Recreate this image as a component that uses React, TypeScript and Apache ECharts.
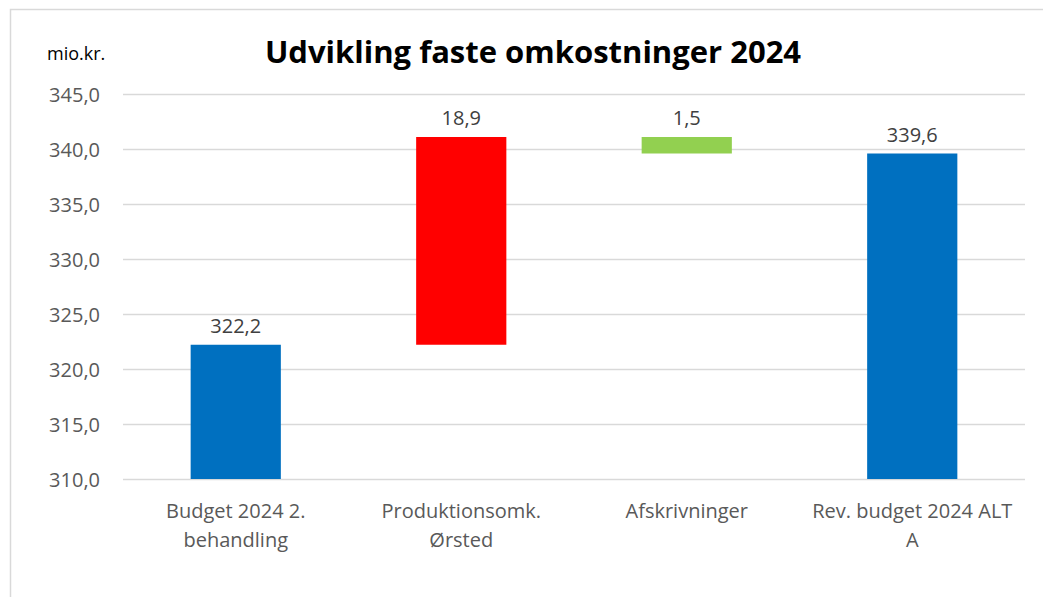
import React, { useEffect, useRef } from "react";
import * as echarts from "echarts";

const categories = [
  "Budget 2024 2.\nbehandling",
  "Produktionsomk.\nØrsted",
  "Afskrivninger",
  "Rev. budget 2024 ALT\nA",
];
const values = [322.2, 18.9, -1.5, 339.6];
const kinds = ["total", "increase", "decrease", "total"];
const colors = { total: "#0070C0", increase: "#FF0000", decrease: "#92D050" };
const yMin = 310;
const yMax = 345;
const yStep = 5;
const title = "Udvikling faste omkostninger 2024";
const unit = "mio.kr.";

const fmt = (v: number) => v.toFixed(1).replace(".", ",");

export default function App() {
  const ref = useRef<HTMLDivElement>(null);
  useEffect(() => {
    if (!ref.current) return;
    const chart = echarts.init(ref.current, undefined, { renderer: "svg" });
    let running = 0;
    const base: number[] = [];
    const vis: number[] = [];
    values.forEach((v, i) => {
      if (kinds[i] === "total") {
        base.push(0);
        vis.push(v);
        running = v;
      } else if (v >= 0) {
        base.push(running);
        vis.push(v);
        running += v;
      } else {
        running += v;
        base.push(running);
        vis.push(-v);
      }
    });
    const font = "'Open Sans', sans-serif";
    chart.setOption({
      animation: false,
      graphic: [
        {
          type: "rect",
          shape: { x: 10.5, y: 9.5, width: 1200, height: 800 },
          style: { fill: "none", stroke: "#d9d9d9", lineWidth: 1.5 },
          silent: true,
        },
        {
          type: "text",
          x: 47,
          y: 53,
          style: {
            text: unit,
            fontSize: 18,
            fill: "#000",
            fontFamily: font,
            verticalAlign: "middle",
          },
        },
        {
          type: "text",
          x: 533,
          y: 51,
          style: {
            text: title,
            fontSize: 31,
            fontWeight: "bold",
            fill: "#000",
            fontFamily: font,
            align: "center",
            verticalAlign: "middle",
          },
        },
      ],
      grid: { left: 123, right: 18, top: 94, bottom: 118, containLabel: false },
      xAxis: {
        type: "category",
        data: categories,
        axisLine: { show: false },
        axisTick: { show: false },
        axisLabel: {
          color: "#595959",
          fontSize: 20,
          fontFamily: font,
          lineHeight: 29,
          margin: 17,
          interval: 0,
        },
      },
      yAxis: {
        type: "value",
        min: yMin,
        max: yMax,
        interval: yStep,
        axisLine: { show: false },
        axisTick: { show: false },
        splitLine: { lineStyle: { color: "#d9d9d9", width: 1.3 } },
        axisLabel: {
          color: "#595959",
          fontSize: 20,
          fontFamily: font,
          margin: 23,
          formatter: (v: number) => fmt(v),
        },
      },
      series: [
        {
          type: "bar",
          stack: "wf",
          data: base,
          itemStyle: { color: "transparent" },
          barWidth: "40%",
          clip: true,
          silent: true,
        },
        {
          type: "bar",
          stack: "wf",
          clip: true,
          data: vis.map((v, i) => ({
            value: v,
            itemStyle: { color: (colors as any)[kinds[i]] },
          })),
          label: {
            show: true,
            position: "top",
            distance: 9,
            color: "#404040",
            fontSize: 20,
            fontFamily: font,
            formatter: (p: any) => fmt(Math.abs(values[p.dataIndex])),
          },
        },
      ],
    });
    return () => chart.dispose();
  }, []);
  return (
    <div
      ref={ref}
      style={{ position: "fixed", left: 0, top: 0, width: 1043, height: 597, background: "#fff" }}
    />
  );
}
